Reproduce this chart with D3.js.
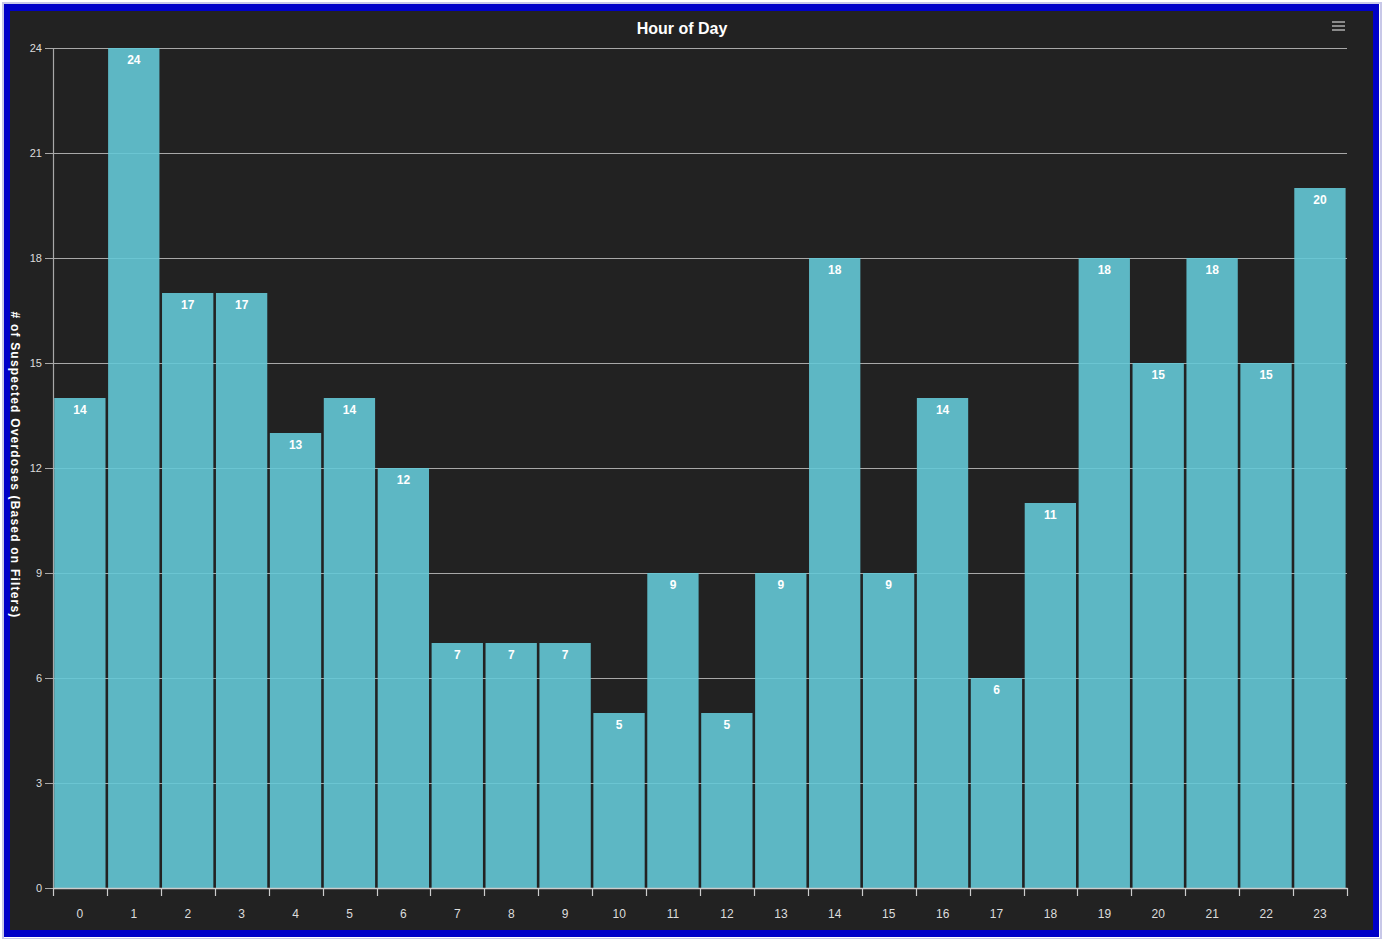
<!DOCTYPE html>
<html>
<head>
<meta charset="utf-8">
<script src="https://cdn.jsdelivr.net/npm/d3@7"></script>
<style>
  html, body { margin: 0; padding: 0; background: #ffffff; }
  svg { display: block; font-family: "Liberation Sans", Arial, sans-serif; }
</style>
</head>
<body>
<svg id="chart" width="1390" height="939"></svg>
<script>
// Overdose counts by hour of day
const hours = ["0","1","2","3","4","5","6","7","8","9","10","11","12","13","14","15","16","17","18","19","20","21","22","23"];
const counts = [14, 24, 17, 17, 13, 14, 12, 7, 7, 7, 5, 9, 5, 9, 18, 9, 14, 6, 11, 18, 15, 18, 15, 20];
const yTicks = [0, 3, 6, 9, 12, 15, 18, 21, 24];
const titleText = "Hour of Day";
const yAxisTitle = "# of Suspected Overdoses (Based on Filters)";

const svg = d3.select("#chart");

// Frame: outer halo, blue border, dark panel
svg.append("rect").attr("x", 3).attr("y", 3).attr("width", 1378).attr("height", 936)
  .attr("fill", "none").attr("stroke", "#c8c8e8").attr("stroke-width", 2);
svg.append("rect").attr("x", 4).attr("y", 4).attr("width", 1375).attr("height", 933)
  .attr("fill", "#0000c8");
svg.append("rect").attr("x", 10).attr("y", 11).attr("width", 1363).attr("height", 919)
  .attr("fill", "#222222");

const plot = { left: 53, right: 1347, top: 48, bottom: 888 };

const x = d3.scaleBand().domain(hours).range([plot.left, plot.right]).padding(0);
const y = d3.scaleLinear().domain([0, 24]).range([plot.bottom, plot.top]);

// Title
svg.append("text").attr("x", 682).attr("y", 34).attr("text-anchor", "middle")
  .attr("fill", "#ffffff").attr("font-size", 16).attr("font-weight", "bold")
  .text(titleText);

// Menu icon
const menu = svg.append("g").attr("stroke", "#8a8a8a").attr("stroke-width", 2);
[22, 26, 30].forEach(v => menu.append("line").attr("x1", 1332).attr("x2", 1345).attr("y1", v).attr("y2", v));

// Horizontal grid lines
svg.append("g").selectAll("line").data(yTicks.filter(d => d > 0)).join("line")
  .attr("x1", plot.left).attr("x2", plot.right)
  .attr("y1", d => Math.round(y(d)) + 0.5).attr("y2", d => Math.round(y(d)) + 0.5)
  .attr("stroke", "#a8a8a8").attr("stroke-width", 1.2);

// Bars
svg.append("g").selectAll("rect").data(counts).join("rect")
  .attr("x", (d, i) => x(hours[i]) + 1.2)
  .attr("y", d => y(d))
  .attr("width", x.bandwidth() - 2.6)
  .attr("height", d => y(0) - y(d))
  .attr("fill", "rgb(100,200,214)")
  .attr("fill-opacity", 0.9);

// Value labels
svg.append("g").selectAll("text").data(counts).join("text")
  .attr("x", (d, i) => x(hours[i]) + x.bandwidth() / 2)
  .attr("y", d => y(d) + 16)
  .attr("text-anchor", "middle")
  .attr("fill", "#ffffff").attr("font-size", 12).attr("font-weight", "bold")
  .text(d => d);

// Y axis
const yAxis = svg.append("g").attr("transform", `translate(${plot.left},0)`)
  .call(d3.axisLeft(y).tickValues(yTicks).tickSize(8).tickPadding(3).tickFormat(d3.format("d")));
yAxis.select(".domain").attr("stroke", "#a8a8a8").attr("stroke-width", 1.2);
yAxis.selectAll(".tick line").attr("stroke", "#a8a8a8");
yAxis.selectAll(".tick text").attr("fill", "#dddddd").attr("font-size", 11)
  .attr("font-family", "Liberation Sans, Arial, sans-serif");

// X axis
const xAxis = svg.append("g").attr("transform", `translate(0,${plot.bottom})`)
  .call(d3.axisBottom(x).tickSize(0).tickPadding(21));
xAxis.select(".domain").attr("stroke", "#cccccc").attr("stroke-width", 1.5);
xAxis.selectAll(".tick text").attr("fill", "#dddddd").attr("font-size", 12)
  .attr("font-family", "Liberation Sans, Arial, sans-serif");
// Category boundary ticks
const edges = hours.map(h => x(h)).concat([plot.right]);
svg.append("g").selectAll("line").data(edges).join("line")
  .attr("x1", d => Math.round(d) + 0.5).attr("x2", d => Math.round(d) + 0.5)
  .attr("y1", plot.bottom).attr("y2", plot.bottom + 8)
  .attr("stroke", "#cccccc").attr("stroke-width", 1.2);

// Y axis title
svg.append("text")
  .attr("transform", `translate(11,465) rotate(90)`)
  .attr("text-anchor", "middle")
  .attr("fill", "#ffffff").attr("font-size", 12).attr("font-weight", "bold")
  .attr("letter-spacing", 1.2)
  .text(yAxisTitle);
</script>
</body>
</html>
